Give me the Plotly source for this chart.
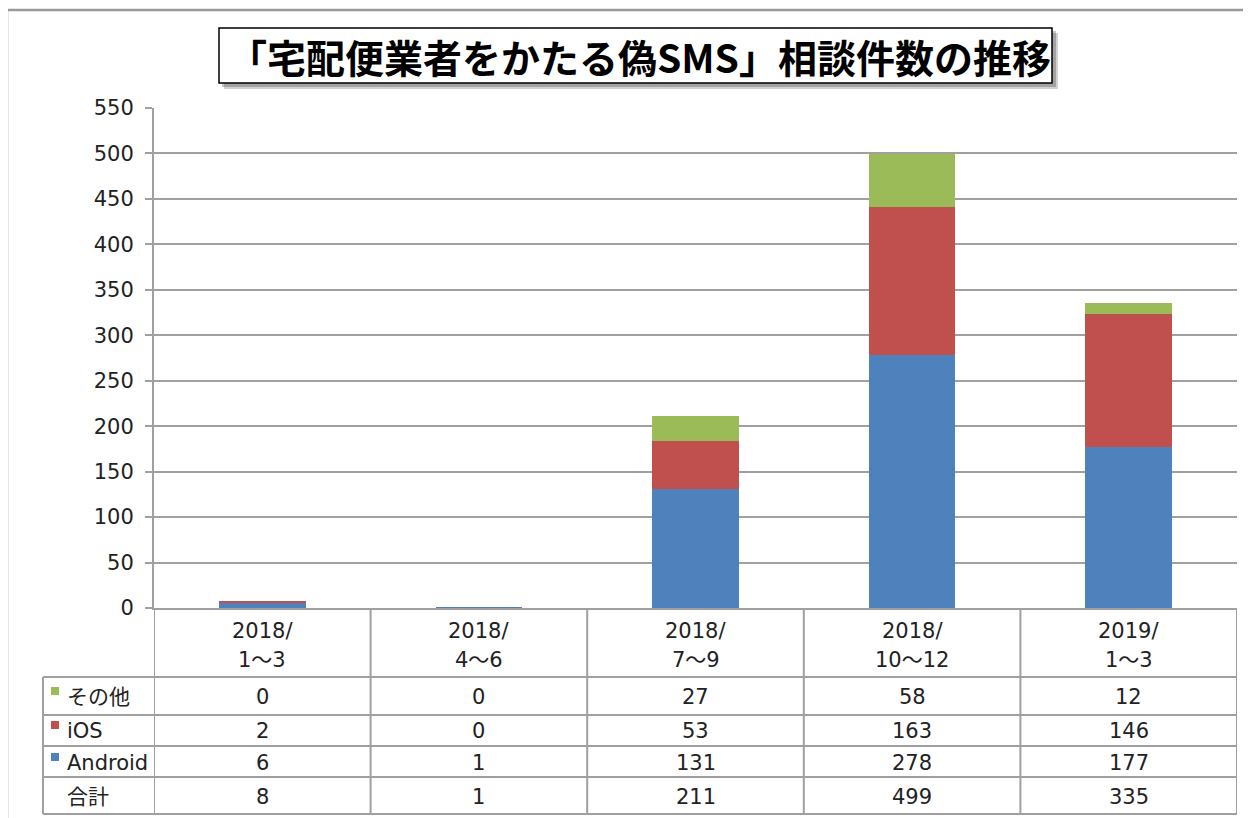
import plotly.graph_objects as go

categories = ["2018/<br>1〜3", "2018/<br>4〜6", "2018/<br>7〜9", "2018/<br>10〜12", "2019/<br>1〜3"]
cat_keys = ["2018/1〜3", "2018/4〜6", "2018/7〜9", "2018/10〜12", "2019/1〜3"]
series_names = ["その他", "iOS", "Android"]
others = [0, 0, 27, 58, 12]
ios = [2, 0, 53, 163, 146]
android = [6, 1, 131, 278, 177]
totals = [8, 1, 211, 499, 335]
colors = {"その他": "#9BBB59", "iOS": "#C0504D", "Android": "#4F81BD"}
title_text = "「宅配便業者をかたる偽SMS」相談件数の推移"

# page has an 8px body margin; figure is offset by (8, 8)
OFF = 8
W, H = 1251 - OFF, 818 - OFF
L, R, T, B = 154 - OFF, 14, 108 - OFF, 210
PW = W - L - R
PH = H - T - B
PLOT_LEFT = 154       # page px
PLOT_BOTTOM = 608     # page px

def px(x):
    return (x - PLOT_LEFT) / PW

def py(y):
    return (PLOT_BOTTOM - y) / PH

FONT = "DejaVu Sans, Noto Sans CJK JP"
TFONT = "Noto Sans CJK JP"
GRID = "#a0a0a0"
TXT = "#222"
FS = 21

fig = go.Figure()
for name, vals in [("Android", android), ("iOS", ios), ("その他", others)]:
    fig.add_trace(go.Bar(x=cat_keys, y=vals, name=name, marker_color=colors[name],
                         marker_line_width=0, width=0.4, showlegend=False))

shapes = []
annotations = []

# outer chart border
shapes.append(dict(type="rect", xref="paper", yref="paper", x0=px(7), x1=px(1262),
                   y0=py(10), y1=py(830), line=dict(color="#9a9a9a", width=2.5), layer="below"))

# title box with shadow
shapes.append(dict(type="rect", xref="paper", yref="paper", x0=px(224), x1=px(1058),
                   y0=py(33), y1=py(89), line=dict(width=0), fillcolor="rgba(0,0,0,0.18)"))
shapes.append(dict(type="rect", xref="paper", yref="paper", x0=px(222), x1=px(1056),
                   y0=py(31), y1=py(87), line=dict(width=0), fillcolor="rgba(0,0,0,0.22)"))
shapes.append(dict(type="rect", xref="paper", yref="paper", x0=px(219), x1=px(1052),
                   y0=py(28), y1=py(83), line=dict(color="black", width=1.5), fillcolor="white"))
annotations.append(dict(text="<b>" + title_text + "</b>", xref="paper", yref="paper",
                        x=px(639), y=py(56), xanchor="center", yanchor="middle", showarrow=False,
                        font=dict(family=TFONT, size=39, color="black")))

# data table lines
row_lines = [677, 715, 746, 777, 814]
for yy in row_lines:
    shapes.append(dict(type="line", xref="paper", yref="paper", x0=px(43), x1=px(1237),
                       y0=py(yy), y1=py(yy), line=dict(color=GRID, width=2)))
shapes.append(dict(type="line", xref="paper", yref="paper", x0=px(43), x1=px(43),
                   y0=py(677), y1=py(814), line=dict(color=GRID, width=2)))
for i in range(len(cat_keys) + 1):
    shapes.append(dict(type="line", xref="x", yref="paper", x0=i - 0.5, x1=i - 0.5,
                       y0=py(608), y1=py(814), line=dict(color=GRID, width=2)))

# category labels in the header row
for key, lab in zip(cat_keys, categories):
    top, bot = lab.split("<br>")
    annotations.append(dict(text=top, xref="x", yref="paper", x=key, y=py(631),
                            yanchor="middle", showarrow=False,
                            font=dict(family=FONT, size=FS, color=TXT)))
    annotations.append(dict(text=bot, xref="x", yref="paper", x=key, y=py(660),
                            yanchor="middle", showarrow=False,
                            font=dict(family=FONT, size=FS, color=TXT)))

row_centers = {"その他": 697, "iOS": 731, "Android": 763, "合計": 797}
row_data = {"その他": others, "iOS": ios, "Android": android, "合計": totals}
for rname, vals in row_data.items():
    yc = row_centers[rname]
    if rname in colors:
        shapes.append(dict(type="rect", xref="paper", yref="paper", x0=px(51), x1=px(59),
                           y0=py(yc - 10), y1=py(yc - 2), line=dict(width=0),
                           fillcolor=colors[rname]))
    annotations.append(dict(text=rname, xref="paper", yref="paper", x=px(65), y=py(yc),
                            xanchor="left", yanchor="middle", showarrow=False,
                            font=dict(family=FONT, size=FS, color=TXT)))
    for key, v in zip(cat_keys, vals):
        annotations.append(dict(text=str(v), xref="x", yref="paper", x=key, y=py(yc),
                                xanchor="center", yanchor="middle", showarrow=False,
                                font=dict(family=FONT, size=FS, color=TXT)))

fig.update_layout(
    width=W, height=H,
    margin=dict(l=L, r=R, t=T, b=B),
    barmode="stack",
    paper_bgcolor="white", plot_bgcolor="white",
    shapes=shapes, annotations=annotations,
    xaxis=dict(type="category", range=[-0.5, 4.5], showticklabels=False, ticks="",
               showgrid=False, showline=True, linecolor=GRID, linewidth=2, zeroline=False),
    yaxis=dict(range=[0, 550], dtick=50, tick0=0, ticks="outside", ticklen=7,
               tickcolor=GRID, tickwidth=2, showline=True, linecolor=GRID, linewidth=2,
               showgrid=True, gridcolor=GRID, gridwidth=2, zeroline=False,
               ticklabelstandoff=7,
               tickfont=dict(family=FONT, size=FS, color=TXT)),
    font=dict(family=FONT),
)

fig.write_html("out.html")
